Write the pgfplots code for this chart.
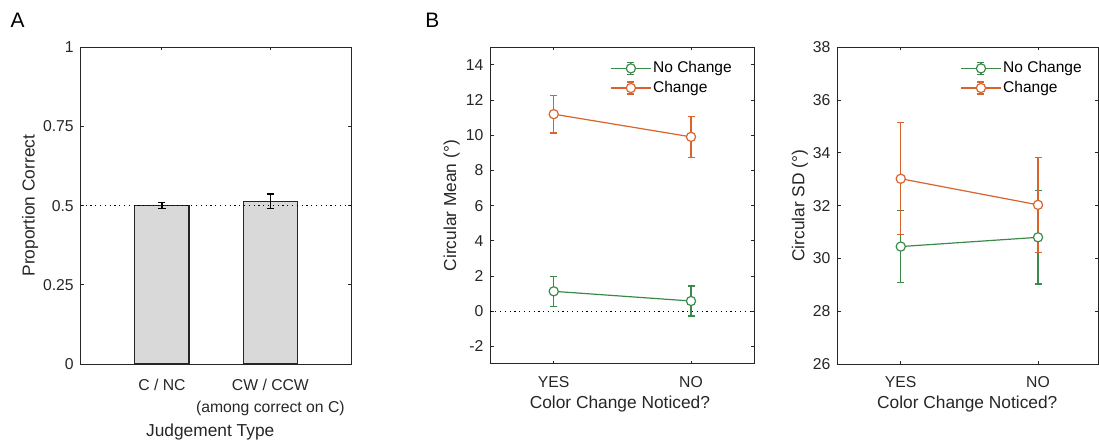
\documentclass[border=0pt]{standalone}
\usepackage{pgfplots}
\pgfplotsset{compat=1.18}
\usepackage{fontspec}
\setmainfont{Liberation Sans}
\definecolor{cgreen}{RGB}{58,138,74}
\definecolor{corange}{RGB}{217,99,43}
\definecolor{axgray}{RGB}{38,38,38}
\definecolor{barfill}{RGB}{217,217,217}
\pgfplotsset{
  mystyle/.style={
    scale only axis,
    axis line style={axgray, line width=0.5bp},
    every tick/.style={axgray, line width=0.5bp},
    major tick length=1.6bp,
    tick align=inside,
    xtick pos=both, ytick pos=both,
    ticklabel style={font=\fontsize{7.9}{11}\selectfont, text=axgray},
    label style={font=\fontsize{8.7}{11}\selectfont, text=axgray},
    /pgf/number format/assume math mode=true,
    clip=false,
  },
  lstyle/.style={
    legend style={draw=none, fill=none, inner sep=0pt, font=\fontsize{7.8}{9}\selectfont,
      nodes={inner sep=0.8bp, text height=6.2bp, text depth=2bp, text=black}},
    legend cell align=left,
    legend image code/.code={
      \draw[##1, mark=none] (0bp,0bp) -- (20bp,0bp);
      \draw[##1, mark=none, solid] (10bp,-3bp) -- (10bp,3bp) (8.25bp,-3bp) -- (11.75bp,-3bp) (8.25bp,3bp) -- (11.75bp,3bp);
      \draw[##1] plot coordinates {(10bp,0bp)};
    },
  },
  ebars/.style={
    error bars/.cd, y dir=both, y explicit,
    error bar style={line width=0.6bp, solid},
    error mark options={#1, mark size=1.75bp, line width=0.6bp, rotate=90},
  },
}
\begin{document}
\begin{tikzpicture}
\path[use as bounding box] (0bp,0bp) rectangle (549.5bp,223bp);
\node[font=\fontsize{10.5}{12}\selectfont] at (8.75bp,212.75bp) {A};
\node[font=\fontsize{10.5}{12}\selectfont] at (216.2bp,212.75bp) {B};
% Panel A
\begin{axis}[mystyle, at={(40.35bp,41bp)}, anchor=south west,
  width=135.5bp, height=158.35bp,
  xmin=0.25, xmax=2.75, ymin=0, ymax=1,
  xtick={1,2},
  xticklabels={C / NC, {CW / CCW\\(among correct on C)}},
  xticklabel style={align=center, anchor=north, yshift=-4bp},
  ytick={0,0.25,0.5,0.75,1},
  yticklabels={0,0.25,0.5,0.75,1},
  xlabel={Judgement Type},
  ylabel={Proportion Correct},
  xlabel style={at={(axis description cs:0.478,-0.214)}, anchor=center},
  ylabel style={at={(axis description cs:-0.187,0.5)}, anchor=center},
]
\addplot[ybar, bar width=0.5, fill=barfill, draw=axgray, line width=0.6bp,
  error bars/.cd, y dir=both, y explicit,
  error bar style={black, line width=0.65bp},
  error mark options={black, mark size=1.75bp, line width=0.65bp, rotate=90}]
  coordinates {(1,0.500) +- (0,0.010) (2,0.514) +- (0,0.023)};
\addplot[black, line width=0.5bp, dash pattern=on 0.6bp off 1.8bp] coordinates {(0.25,0.5) (2.75,0.5)};
\end{axis}
% Panel B left
\begin{axis}[mystyle, lstyle, at={(245.15bp,41bp)}, anchor=south west,
  width=132bp, height=158.35bp,
  xmin=0.538, xmax=2.461, ymin=-3, ymax=15,
  xtick={1,2}, xticklabels={YES,NO},
  xticklabel style={anchor=north, yshift=-2.8bp},
  ytick={-2,0,2,4,6,8,10,12,14},
  yticklabels={-2,0,2,4,6,8,10,12,14},
  xlabel={Color Change Noticed?},
  ylabel={Circular Mean (°)},
  xlabel style={at={(axis description cs:0.491,-0.125)}, anchor=center},
  ylabel style={at={(axis description cs:-0.146,0.5)}, anchor=center},
  legend style={at={(axis description cs:0.453,0.9656)}, anchor=north west},
]
\addplot[black, line width=0.5bp, dash pattern=on 0.6bp off 1.8bp, forget plot] coordinates {(0.538,0) (2.461,0)};
\addplot[cgreen, line width=0.6bp, mark=*, mark size=2.3bp, mark options={fill=white, solid}, ebars=cgreen]
  coordinates {(1,1.13) +- (0,0.84) (2,0.58) +- (0,0.85)};
\addplot[corange, line width=0.6bp, mark=*, mark size=2.3bp, mark options={fill=white, solid}, ebars=corange]
  coordinates {(1,11.20) +- (0,1.07) (2,9.91) +- (0,1.16)};
\legend{No Change, Change}
\end{axis}
% Panel B right
\begin{axis}[mystyle, lstyle, at={(418.65bp,41bp)}, anchor=south west,
  width=130.5bp, height=158.35bp,
  xmin=0.538, xmax=2.439, ymin=26, ymax=38,
  xtick={1,2}, xticklabels={YES,NO},
  xticklabel style={anchor=north, yshift=-2.8bp},
  ytick={26,28,30,32,34,36,38},
  yticklabels={26,28,30,32,34,36,38},
  xlabel={Color Change Noticed?},
  ylabel={Circular SD (°)},
  xlabel style={at={(axis description cs:0.498,-0.125)}, anchor=center},
  ylabel style={at={(axis description cs:-0.143,0.5)}, anchor=center},
  legend style={at={(axis description cs:0.470,0.9656)}, anchor=north west},
]
\addplot[cgreen, line width=0.6bp, mark=*, mark size=2.3bp, mark options={fill=white, solid}, ebars=cgreen]
  coordinates {(1,30.45) +- (0,1.37) (2,30.80) +- (0,1.77)};
\addplot[corange, line width=0.6bp, mark=*, mark size=2.3bp, mark options={fill=white, solid}, ebars=corange]
  coordinates {(1,33.02) +- (0,2.12) (2,32.03) +- (0,1.80)};
\legend{No Change, Change}
\end{axis}
\end{tikzpicture}
\end{document}
